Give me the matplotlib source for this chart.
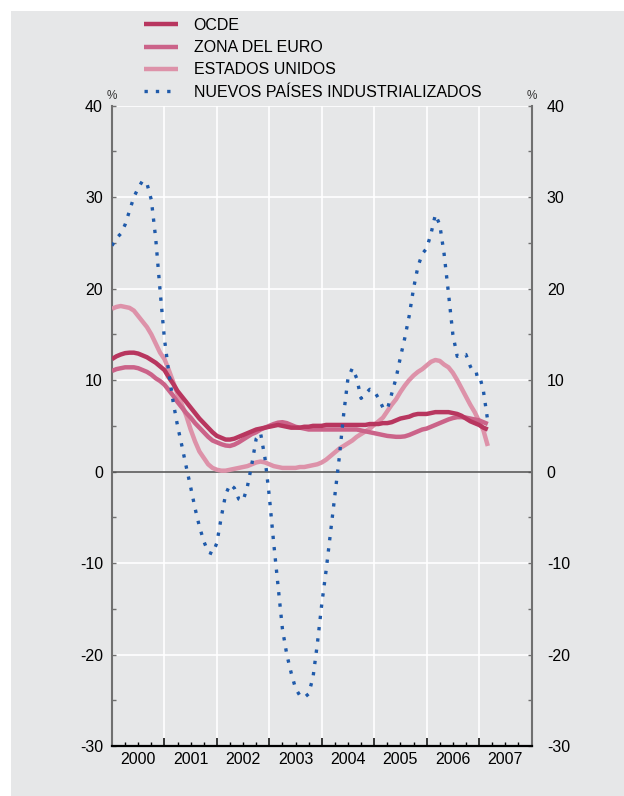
import numpy as np
import matplotlib
matplotlib.use("Agg")
import matplotlib.pyplot as plt
from matplotlib.ticker import MultipleLocator, FixedLocator, FuncFormatter, NullLocator
from matplotlib.patches import Rectangle

plt.rcParams['font.family'] = ['Liberation Sans', 'DejaVu Sans']
plt.rcParams['axes.unicode_minus'] = False

# monthly data, Jan 2000 .. Mar 2007
ocde = [12.3, 12.6, 12.8, 12.95, 13.0, 13.0, 12.9, 12.7, 12.5, 12.2, 11.9, 11.5,
        11.1, 10.3, 9.6, 8.8, 8.2, 7.6, 7.0, 6.4, 5.8, 5.3, 4.8, 4.3,
        3.9, 3.7, 3.5, 3.5, 3.6, 3.8, 4.0, 4.2, 4.4, 4.6, 4.7, 4.8,
        4.9, 5.0, 5.1, 5.0, 4.9, 4.8, 4.8, 4.8, 4.9, 4.9, 5.0, 5.0,
        5.0, 5.1, 5.1, 5.1, 5.1, 5.1, 5.1, 5.1, 5.1, 5.1, 5.1, 5.2,
        5.2, 5.2, 5.3, 5.3, 5.4, 5.6, 5.8, 5.9, 6.0, 6.2, 6.3, 6.3,
        6.3, 6.4, 6.5, 6.5, 6.5, 6.5, 6.4, 6.3, 6.1, 5.8, 5.5, 5.3,
        5.1, 4.8, 4.6]
euro = [11.0, 11.2, 11.3, 11.4, 11.4, 11.4, 11.3, 11.1, 10.9, 10.6, 10.2, 9.9,
        9.5, 8.9, 8.3, 7.6, 7.0, 6.4, 5.9, 5.3, 4.8, 4.3, 3.8, 3.4,
        3.2, 3.0, 2.85, 2.8, 2.95, 3.2, 3.5, 3.8, 4.1, 4.3, 4.6, 4.8,
        5.0, 5.2, 5.35, 5.4, 5.3, 5.1, 4.9, 4.8, 4.7, 4.6, 4.6, 4.6,
        4.6, 4.6, 4.6, 4.6, 4.6, 4.6, 4.6, 4.6, 4.6, 4.5, 4.4, 4.3,
        4.2, 4.1, 4.0, 3.9, 3.85, 3.8, 3.8, 3.85, 4.0, 4.2, 4.4, 4.6,
        4.7, 4.9, 5.1, 5.3, 5.5, 5.7, 5.85, 5.95, 5.95, 5.9, 5.8, 5.7,
        5.6, 5.4, 5.2]
usa = [17.8, 18.0, 18.1, 18.0, 17.9, 17.6, 17.0, 16.4, 15.8, 15.0, 14.0, 13.0,
       12.3, 11.1, 9.8, 8.5, 7.3, 6.1, 4.6, 3.3, 2.2, 1.5, 0.8, 0.4,
       0.2, 0.1, 0.1, 0.2, 0.3, 0.4, 0.5, 0.6, 0.8, 1.0, 1.1, 1.0,
       0.8, 0.6, 0.5, 0.4, 0.4, 0.4, 0.4, 0.5, 0.5, 0.6, 0.7, 0.8,
       1.0, 1.3, 1.7, 2.1, 2.5, 2.8, 3.1, 3.4, 3.8, 4.1, 4.4, 4.7,
       5.1, 5.5, 5.9, 6.6, 7.3, 7.9, 8.7, 9.4, 10.0, 10.5, 10.9, 11.2,
       11.6, 12.0, 12.2, 12.1, 11.7, 11.4, 10.8, 10.0, 9.1, 8.2, 7.3, 6.5,
       5.5, 4.5, 2.8]
npi = [24.7, 25.5, 26.0, 27.0, 28.5, 30.0, 31.0, 31.8, 31.5, 29.7, 25.5, 19.8,
       14.5, 10.8, 7.6, 5.0, 2.8, 0.5, -1.7, -4.0, -6.0, -7.6, -8.8, -9.0,
       -7.8, -5.0, -2.5, -1.4, -1.8, -3.0, -3.2, -1.6, 0.8, 3.6, 4.2, 1.5,
       -2.7, -7.8, -12.5, -17.2, -20.0, -22.0, -23.7, -24.5, -24.7, -24.3, -22.5, -18.8,
       -14.5, -10.8, -6.7, -2.6, 1.5, 6.2, 10.2, 11.3, 10.2, 8.0, 8.5, 9.0,
       8.8, 8.0, 7.0, 6.8, 8.5, 10.2, 12.5, 14.6, 17.0, 20.0, 22.4, 23.8,
       24.4, 26.0, 28.1, 27.0, 23.8, 19.5, 15.0, 12.6, 12.8, 12.8, 11.5, 10.6,
       10.7, 8.8, 5.5]
labels = ['OCDE', 'ZONA DEL EURO', 'ESTADOS UNIDOS', 'NUEVOS PAÍSES INDUSTRIALIZADOS']
years = [2000, 2001, 2002, 2003, 2004, 2005, 2006, 2007]

months = 2000 + np.arange(len(npi)) / 12.0

bg = '#e6e7e8'
fs = 11.5
fig = plt.figure(figsize=(6.24, 7.96), dpi=100)
fig.patch.set_facecolor('white')
fig.patches.append(Rectangle((11 / 624, 0), 1, 1 - 11 / 796, transform=fig.transFigure,
                             facecolor=bg, edgecolor='none', zorder=-10))

ax = fig.add_axes([112 / 624, 50 / 796, 419.5 / 624, 640.3 / 796])
ax.set_facecolor(bg)

ax.set_xlim(2000, 2008)
ax.set_ylim(-30, 40)

# grid
for v in [-20, -10, 10, 20, 30, 40]:
    ax.axhline(v, color='white', lw=1.2, zorder=1)
for yr in years[1:]:
    ax.axvline(yr, color='white', lw=1.2, zorder=1)
ax.axhline(0, color='#505050', lw=1.1, zorder=2)

ax.plot(months, usa, color='#dd92a9', lw=3.2, zorder=3, solid_capstyle='butt', label=labels[2])
ax.plot(months, euro, color='#cb6389', lw=3.2, zorder=4, solid_capstyle='butt', label=labels[1])
ax.plot(months, ocde, color='#b8365f', lw=3.2, zorder=5, solid_capstyle='butt', label=labels[0])
ax.plot(months, npi, color='#1f5aaa', lw=2.4, zorder=6, linestyle=(0, (1, 2.4)),
        dash_capstyle='butt', label=labels[3])

# right-hand labels
ax2 = ax.twinx()
ax2.set_ylim(-30, 40)
ax2.yaxis.set_major_locator(MultipleLocator(10))
ax2.yaxis.set_minor_locator(NullLocator())
ax2.tick_params(axis='y', length=0, labelsize=fs, pad=11)
for s in ax2.spines.values():
    s.set_visible(False)
ax2.patch.set_visible(False)

# spines
for s in ['left', 'right']:
    ax.spines[s].set_color('#707070')
    ax.spines[s].set_linewidth(1.5)
ax.spines['top'].set_visible(False)
ax.spines['bottom'].set_color('black')
ax.spines['bottom'].set_linewidth(1.6)

# y ticks both sides
ax.yaxis.set_major_locator(MultipleLocator(10))
ax.yaxis.set_minor_locator(MultipleLocator(5))
ax.tick_params(axis='y', which='both', direction='in', length=3, width=1, color='#707070',
               left=True, right=True, labelleft=True, labelright=False, labelsize=fs, pad=6.5)

# x ticks
ax.xaxis.set_major_locator(FixedLocator(list(range(2000, 2009))))
ax.xaxis.set_minor_locator(FixedLocator([2000 + q / 4 for q in range(33) if q % 4]))
ax.xaxis.set_major_formatter(FuncFormatter(lambda v, p: ''))
ax.xaxis.set_minor_formatter(FuncFormatter(
    lambda v, p: str(int(v)) if abs(v - int(v) - 0.5) < 1e-6 else ''))
ax.tick_params(axis='x', which='major', direction='in', length=5.8, width=1.1, color='black')
ax.tick_params(axis='x', which='minor', direction='in', length=3.1, width=1.0, color='black',
               labelsize=fs, pad=4)

ax.text(0, 1.006, '%', transform=ax.transAxes, ha='center', va='bottom',
        fontsize=8.5, color='#333333')
ax.text(1, 1.006, '%', transform=ax.transAxes, ha='center', va='bottom',
        fontsize=8.5, color='#333333')

h, l = ax.get_legend_handles_labels()
order = [2, 1, 0, 3]
ax.legend([h[i] for i in order], [l[i] for i in order], loc='upper left',
          bbox_to_anchor=(144 / 624, 1 - 18 / 796), bbox_transform=fig.transFigure,
          frameon=False, fontsize=fs, handlelength=2.1, handletextpad=1.0,
          labelspacing=0.45, borderpad=0, borderaxespad=0)

fig.savefig('out.png', dpi=100, facecolor=fig.get_facecolor())
